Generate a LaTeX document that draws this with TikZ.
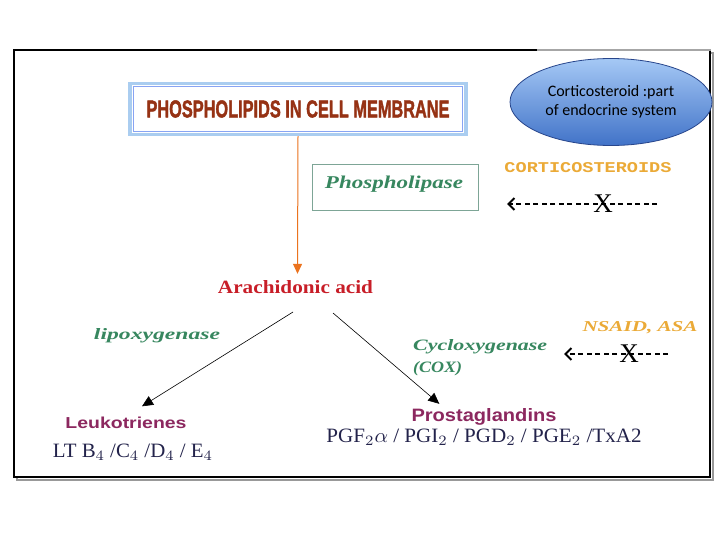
\documentclass[tikz,border=0pt]{standalone}
\usepackage{graphicx}
\usepackage{fontspec}
\setmainfont{Liberation Serif}
\setsansfont{Liberation Sans}
\newfontfamily\calfont{Carlito}
\newfontfamily\slabfont{Liberation Mono}
\newfontfamily\heavyfont{Liberation Sans Bold}[FakeBold=2]
\usetikzlibrary{arrows.meta, positioning, shapes.geometric, calc}
\definecolor{titlered}{RGB}{150,50,20}
\definecolor{titleblue}{RGB}{170,205,240}
\definecolor{enzgreen}{RGB}{55,135,95}
\definecolor{boxgreen}{RGB}{125,165,150}
\definecolor{drugorange}{RGB}{235,170,55}
\definecolor{flowor}{RGB}{235,115,30}
\definecolor{acidred}{RGB}{200,30,40}
\definecolor{prodpurple}{RGB}{140,40,95}
\definecolor{subnavy}{RGB}{35,35,75}
\definecolor{ellblue}{RGB}{40,70,140}
% width x height (pt) of a label
\newcommand{\fitto}[3]{\resizebox{#1pt}{#2pt}{#3}}

\begin{document}
\begin{tikzpicture}[x=1pt, y=-1pt,
        lbl/.style={inner sep=0pt, anchor=base},
        enzyme/.style={lbl, text=enzgreen, font=\bfseries\itshape},
        drug/.style={lbl, text=drugorange, font=\bfseries},
        product/.style={lbl, text=prodpurple, font=\sffamily\bfseries},
        subtypes/.style={lbl, text=subnavy},
        block/.style={line width=1.1pt, dash pattern=on 5pt off 3.5pt,
                      -{Straight Barb[length=6pt,width=12pt,line width=2pt]}},
        pathway/.style={-{Triangle[length=11pt,width=10pt]}, semithick}]
  \useasboundingbox (0,0) rectangle (720,540);
  % outer frame with shadow
  \draw[black!40, line width=2pt] (17,53) rectangle (713,480);
  \draw[line width=1.6pt, fill=white] (14,50) rectangle (710,477);
  \draw[line width=1.6pt, black!35] (537,50) -- (711,50);

  % membrane box
  \node[draw=titleblue, line width=3.5pt, minimum width=336pt, minimum height=51pt,
        inner sep=0pt] (membrane) at (298,109)
    {\fitto{303}{17}{\heavyfont\color{titlered}PHOSPHOLIPIDS IN CELL MEMBRANE}};
  \draw[titleblue!80!blue, line width=0.8pt]
    ($(membrane.north west)+(5,5)$) rectangle ($(membrane.south east)+(-5,-5)$);

  % endocrine note
  \node[ellipse, draw=ellblue, line width=0.8pt, minimum width=202pt, minimum height=87pt,
        top color={rgb,255:red,165;green,200;blue,245}, bottom color={rgb,255:red,65;green,115;blue,200},
        align=center, font=\calfont\fontsize{16}{19}\selectfont] (endocrine) at (611,102)
    {Corticosteroid :part\\of endocrine system};

  % phospholipase
  \node[draw=boxgreen, line width=0.8pt, minimum width=166pt, minimum height=46pt] (lipasebox) at (395,187) {};
  \node[enzyme] (lipase) at (394,189) {\fitto{138}{12.5}{Phospholipase}};
  \node[drug, font=\slabfont\bfseries] (cortico) at (588,173) {\fitto{167}{10}{CORTICOSTEROIDS}};
  \coordinate (ctail) at (657,204);
  \coordinate (chead) at (507,204);
  \draw[block] (ctail) -- (chead);
  \node[inner sep=0pt, font=\fontsize{27}{27}\selectfont] (cx) at (603,204) {X};

  % arachidonic acid
  \node[lbl, text=acidred, font=\bfseries] (acid) at (295.5,293) {\fitto{155}{13}{Arachidonic acid}};
  \draw[flowor, line width=1pt, -{Triangle[length=10pt,width=9pt]}] (membrane.south) -- ($(acid.north)+(2,-6)$);

  % enzymes
  \node[enzyme] (lox) at (157,339) {\fitto{126}{11}{lipoxygenase}};
  \node[enzyme, anchor=base west] (cox) at (413,350) {\fitto{134}{11}{Cycloxygenase}};
  \node[enzyme, anchor=base west] (coxabbr) at (413,372) {\fitto{49}{11}{(COX)}};
  \node[drug, font=\bfseries\itshape] (nsaid) at (640,331) {\fitto{115}{10}{NSAID, ASA}};
  \coordinate (ntail) at (668,354);
  \coordinate (nhead) at (564,354);
  \draw[block] (ntail) -- (nhead);
  \node[inner sep=0pt, font=\fontsize{27}{27}\selectfont] (nx) at (629,354) {X};

  % products
  \node[product] (leuko) at (126,428) {\fitto{121}{11.5}{Leukotrienes}};
  \node[subtypes] (ltsub) at (133,457) {\fitto{160}{13.5}{LT B$_4$ /C$_4$ /D$_4$ / E$_4$}};
  \node[product] (prosta) at (484,421) {\fitto{145}{13}{Prostaglandins}};
  \node[subtypes] (pgsub) at (484,442) {\fitto{315}{13.5}{PGF$_2\alpha$ / PGI$_2$ / PGD$_2$ / PGE$_2$ /TxA2}};
  \coordinate (lstart) at (293,312);
  \coordinate (rstart) at (333,313);
  \draw[pathway] (lstart) -- ($(leuko.north)+(16,-10)$);
  \draw[pathway] (rstart) -- ($(prosta.north west)+(28,-4)$);
\end{tikzpicture}
\end{document}
